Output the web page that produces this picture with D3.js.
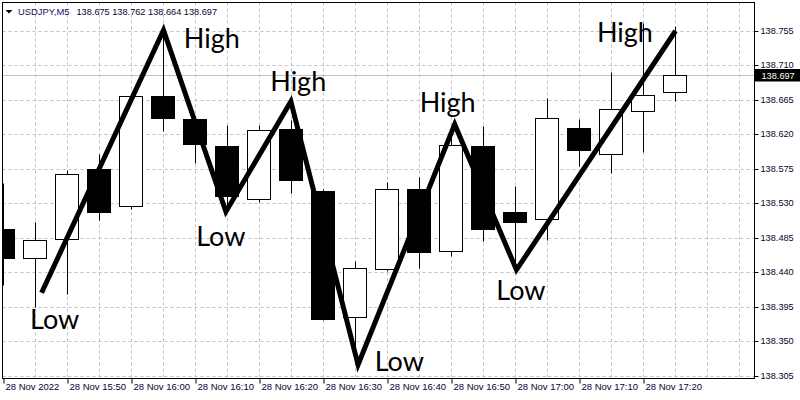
<!DOCTYPE html>
<html>
<head>
<meta charset="utf-8">
<script src="https://cdn.jsdelivr.net/npm/d3@7/dist/d3.min.js"></script>
<style>
  html, body { margin: 0; padding: 0; background: #ffffff; }
  svg { display: block; }
</style>
</head>
<body>
<svg id="chart" width="800" height="400"></svg>
<script>
// ---------------- data ----------------
const symbol = "USDJPY,M5";
const times  = ["15:40","15:45","15:50","15:55","16:00","16:05","16:10","16:15","16:20","16:25","16:30",
                "16:35","16:40","16:45","16:50","16:55","17:00","17:05","17:10","17:15","17:20","17:25"];
const opens  = [138.497,138.459,138.483,138.575,138.526,138.670,138.640,138.605,138.535,138.627,138.546,
                138.381,138.444,138.549,138.468,138.605,138.518,138.509,138.628,138.594,138.651,138.675];
const highs  = [138.556,138.506,138.573,138.594,138.671,138.759,138.644,138.632,138.632,138.639,138.549,
                138.455,138.558,138.564,138.631,138.631,138.553,138.668,138.640,138.701,138.766,138.762];
const lows   = [138.423,138.395,138.412,138.508,138.523,138.624,138.582,138.522,138.531,138.543,138.378,
                138.320,138.442,138.446,138.461,138.481,138.444,138.482,138.579,138.570,138.597,138.664];
const closes = [138.458,138.482,138.568,138.518,138.670,138.641,138.607,138.539,138.626,138.560,138.379,
                138.445,138.549,138.466,138.606,138.497,138.505,138.642,138.599,138.653,138.672,138.697];

const yTicks = [138.305,138.350,138.395,138.440,138.485,138.530,138.575,138.620,138.665,138.710,138.755];
const xTickIndex  = [0,2,4,6,8,10,12,14,16,18,20];
const xTickLabels = ["28 Nov 2022","28 Nov 15:50","28 Nov 16:00","28 Nov 16:10","28 Nov 16:20","28 Nov 16:30",
                     "28 Nov 16:40","28 Nov 16:50","28 Nov 17:00","28 Nov 17:10","28 Nov 17:20"];
const gridIndex = d3.range(1, 24);

// zigzag vertices (bar index, price)
const zzIndex = [1.19, 5, 6.95, 8.98, 11.08, 14.1, 16.03, 21];
const zzPrice = [138.413, 138.756, 138.519, 138.663, 138.319, 138.633, 138.443, 138.755];

// annotations (bar index of text centre, price of baseline)
const lblText  = ["Low","High","Low","High","Low","High","Low","High"];
const lblIndex = [1.60, 6.51, 6.79, 9.21, 12.37, 13.88, 16.17, 19.42];
const lblPrice = [138.366, 138.733, 138.474, 138.676, 138.3115, 138.649, 138.403, 138.741];

// ---------------- layout ----------------
const svg = d3.select("#chart");
const plot = {left: 2.5, top: 2.5, right: 754.5, bottom: 378.5};
const x = d3.scaleLinear().domain([0, 21]).range([3.5, 675.5]);
const y = d3.scaleLinear().domain([138.305, 138.755]).range([375.5, 31]);
const axisFont = "'Liberation Sans', Arial, sans-serif";
const textCol = "#05052a";
const py = v => Math.round(y(v)) + 0.5;

svg.append("defs").append("clipPath").attr("id", "clip")
  .append("rect").attr("x", plot.left).attr("y", plot.top)
  .attr("width", plot.right - plot.left).attr("height", plot.bottom - plot.top);

// grid
const grid = svg.append("g").attr("clip-path", "url(#clip)");
grid.selectAll("line.h").data(yTicks).join("line")
  .attr("x1", plot.left).attr("x2", plot.right)
  .attr("y1", d => py(d)).attr("y2", d => py(d))
  .attr("stroke", "#c0c0c0").attr("stroke-dasharray", "3,3");
grid.selectAll("line.v").data(gridIndex).join("line")
  .attr("x1", d => x(d)).attr("x2", d => x(d))
  .attr("y1", plot.top).attr("y2", plot.bottom)
  .attr("stroke", "#c0c0c0").attr("stroke-dasharray", "3,3");

// current price line
const lastPrice = closes[closes.length - 1];
grid.append("line")
  .attr("x1", plot.left).attr("x2", plot.right)
  .attr("y1", py(lastPrice)).attr("y2", py(lastPrice))
  .attr("stroke", "#c0c0c0");

// candles
const candles = svg.append("g").attr("clip-path", "url(#clip)");
const idx = d3.range(times.length);
candles.selectAll("line.wick").data(idx).join("line")
  .attr("x1", i => x(i)).attr("x2", i => x(i))
  .attr("y1", i => py(highs[i])).attr("y2", i => py(lows[i]))
  .attr("stroke", "#000");
candles.selectAll("rect.body").data(idx).join("rect")
  .attr("x", i => x(i) - 12)
  .attr("width", 23)
  .attr("y", i => py(Math.max(opens[i], closes[i])))
  .attr("height", i => Math.max(1, py(Math.min(opens[i], closes[i])) - py(Math.max(opens[i], closes[i]))))
  .attr("fill", i => closes[i] >= opens[i] ? "#fff" : "#000")
  .attr("stroke", "#000");

// zigzag
const zz = d3.range(zzIndex.length).map(i => [x(zzIndex[i]), y(zzPrice[i])]);
svg.append("path")
  .attr("d", d3.line()(zz))
  .attr("fill", "none").attr("stroke", "#000")
  .attr("stroke-width", 5).attr("stroke-linejoin", "miter").attr("stroke-miterlimit", 10);

// annotations
svg.selectAll("text.lbl").data(lblText).join("text")
  .attr("x", (d, i) => x(lblIndex[i])).attr("y", (d, i) => y(lblPrice[i]))
  .attr("text-anchor", "middle")
  .attr("font-family", "Lato, 'Open Sans', sans-serif").attr("font-size", 27)
  .attr("fill", "#000").text(d => d);

// border
svg.append("rect").attr("x", plot.left).attr("y", plot.top)
  .attr("width", plot.right - plot.left).attr("height", plot.bottom - plot.top)
  .attr("fill", "none").attr("stroke", "#000");

// y axis
const yAxis = svg.append("g").attr("transform", `translate(${plot.right},0.5)`)
  .call(d3.axisRight(y).tickValues(yTicks).tickSize(4).tickPadding(2).tickFormat(d3.format(".3f")));
yAxis.select(".domain").remove();
yAxis.selectAll(".tick").attr("transform", d => `translate(0,${Math.round(y(d))})`);
yAxis.selectAll("text").attr("font-family", axisFont).attr("font-size", 9.2).attr("fill", textCol);
yAxis.selectAll("line").attr("stroke", "#000");

// current price label
const pl = svg.append("g");
pl.append("rect").attr("x", 755).attr("y", py(lastPrice) - 6.5).attr("width", 45).attr("height", 12.5).attr("fill", "#000");
pl.append("text").attr("x", 761.5).attr("y", py(lastPrice)).attr("dy", "0.34em")
  .attr("font-family", axisFont).attr("font-size", 9.2).attr("fill", "#fff")
  .text(d3.format(".3f")(lastPrice));

// x axis
const xAxis = svg.append("g").attr("transform", `translate(0,${plot.bottom})`)
  .call(d3.axisBottom(x).tickValues(xTickIndex).tickSize(5).tickPadding(0).tickFormat((d, i) => xTickLabels[i]));
xAxis.select(".domain").remove();
xAxis.selectAll("text").attr("text-anchor", "start").attr("x", 1.5)
  .attr("font-family", axisFont).attr("font-size", 9.5).attr("fill", textCol);
xAxis.selectAll("line").attr("stroke", "#000");

// header
const hd = svg.append("g");
hd.append("path").attr("d", "M5.5,10 L12.5,10 L9,13.5 Z").attr("fill", "#000");
hd.append("text").attr("x", 18).attr("y", 14.5)
  .attr("font-family", axisFont).attr("font-size", 9.4).attr("fill", "#101060")
  .text(symbol);
hd.append("text").attr("x", 76.5).attr("y", 14.5)
  .attr("font-family", axisFont).attr("font-size", 9.2).attr("fill", textCol)
  .text([opens, highs, lows, closes].map(a => d3.format(".3f")(a[a.length - 1])).join(" "));
</script>
</body>
</html>
